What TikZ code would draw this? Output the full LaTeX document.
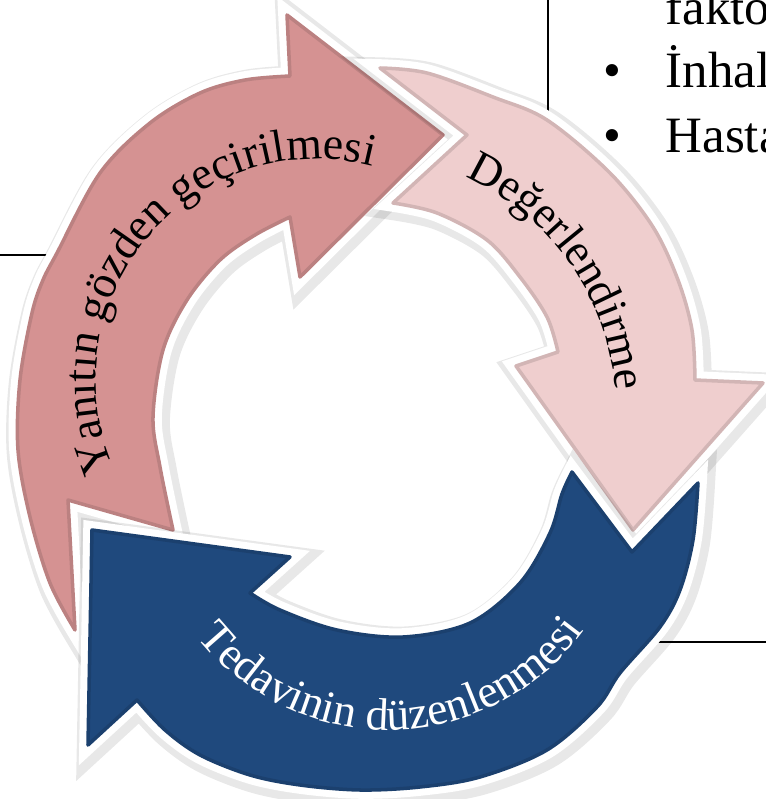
\documentclass[tikz,border=0pt]{standalone}
\usepackage{fontspec}
\setmainfont{Liberation Serif}
\usetikzlibrary{decorations.text}
\tikzset{
  cyclearrow/.style={line join=round,
    preaction={draw=black, draw opacity=0.09, line width=8pt, transform canvas={shift={(0.8pt,-1pt)}}},
    preaction={draw=white, line width=5pt},
    fill=#1,
    postaction={draw=#1!88!black, line width=1pt}},
  stubline/.style={line width=0.8pt, black},
  listtext/.style={anchor=base west, inner sep=0pt, font=\fontsize{14.5}{17}\selectfont},
  listbullet/.style={anchor=base, inner sep=0pt, font=\fontsize{14.5}{17}\selectfont},
}
\newcommand{\arclabel}{\fontsize{13}{15}\selectfont}
\begin{document}
\begin{tikzpicture}
                        % \clip (0,0) rectangle (7.66,7.99);
                        \useasboundingbox (0,0) rectangle (7.66,7.99);
                        \clip (0,0) rectangle (7.66,7.99);

                        % Changing colors
                        \definecolor{r213g146b146}{rgb}{0.835,0.573,0.573}%
                        \definecolor{r239g206b206}{rgb}{0.937,0.808,0.808}%
                        \definecolor{r31g73b125}{rgb}{0.122,0.286,0.490}%

                        % Drawing stubs behind the cycle
                        \coordinate (leftstubA) at (0,5.44);%
                        \coordinate (leftstubB) at (0.62,5.44);%
                        \coordinate (topstubA) at (5.48,7.99);%
                        \coordinate (topstubB) at (5.48,6.84);%
                        \coordinate (rightstubA) at (6.40,1.57);%
                        \coordinate (rightstubB) at (7.66,1.57);%
                        \draw [stubline] (leftstubA) -- (leftstubB);%
                        \draw [stubline] (topstubA) -- (topstubB);%
                        \draw [stubline] (rightstubA) -- (rightstubB);%

                        % Drawing list text
                        \node [listtext] (fakto) at (6.65,7.74) {fakto};%
                        \node [listbullet] (bulletinhal) at (6.12,7.11) {•};%
                        \node [listtext] (inhal) at (6.65,7.11) {İnhal};%
                        \node [listbullet] (bullethasta) at (6.12,6.46) {•};%
                        \node [listtext] (hasta) at (6.65,6.46) {Hasta};%

                        % Drawing arrow Yanitin gozden gecirilmesi
                        \path [cyclearrow=r213g146b146] plot [smooth, tension=0.55] coordinates {(0.75,1.69) (0.50,2.16) (0.30,2.82) (0.18,3.49) (0.20,4.19) (0.32,4.86) (0.43,5.19) (0.57,5.46) (1.00,6.26) (1.50,6.76) (2.00,7.06) (2.45,7.19) (2.90,7.23)} -- (2.87,7.84) -- (4.43,6.64) -- (3.00,5.22) -- plot [smooth, tension=0.55] coordinates {(2.90,5.82) (2.55,5.64) (2.20,5.39) (1.87,4.99) (1.63,4.49) (1.53,3.82) (1.60,3.32) (1.73,2.69)} -- (0.68,2.99) -- cycle;%

                        % Drawing arrow Degerlendirme
                        \path [cyclearrow=r239g206b206] plot [smooth, tension=0.55] coordinates {(3.80,7.31) (4.27,7.26) (4.93,7.02) (5.47,6.79) (6.10,6.26) (6.53,5.72) (6.78,5.19) (6.92,4.69) (6.95,4.19)} -- (7.63,4.16) -- (6.33,2.69) -- (5.16,4.33) -- plot [smooth, tension=0.55] coordinates {(5.58,4.47) (5.47,4.82) (5.20,5.22) (4.87,5.59) (4.37,5.86) (3.93,5.96)} -- (4.67,6.64) -- cycle;%

                        % Drawing arrow Tedavinin duzenlenmesi
                        \path [cyclearrow=r31g73b125] (5.72,3.27) -- (6.32,2.47) -- plot [smooth, tension=0.55] coordinates {(6.98,3.16) (6.93,2.59) (6.80,2.09) (6.60,1.72) (6.20,1.26) (5.97,0.92) (5.47,0.49) (4.80,0.22) (4.20,0.12) (3.60,0.09) (3.00,0.14) (2.50,0.24) (2.00,0.44) (1.65,0.69) (1.37,0.99)} -- (0.88,0.54) -- (0.92,2.69) -- (2.90,2.42) -- plot [smooth, tension=0.55] coordinates {(2.50,2.06) (2.80,1.89) (3.37,1.69) (4.03,1.62) (4.70,1.76) (5.20,2.16) (5.50,2.66) (5.62,3.05) (5.72,3.27)} -- cycle;%

                        % Drawing labels along the arrows
                        \path [decorate, decoration={text along path, text align=center, text={|\arclabel|Yanıtın gözden geçirilmesi}}] ([shift={(209:2.21)}]3.17,4.19) arc [start angle=209, end angle=70, radius=2.21];%
                        \path [decorate, decoration={text along path, text align=center, text={|\arclabel|Değerlendirme}}] ([shift={(72:2.56)}]3.60,3.89) arc [start angle=72, end angle=-2, radius=2.56];%
                        \path [decorate, decoration={text along path, text align=center, text={|\arclabel\color{white}|Tedavinin düzenlenmesi}}] ([shift={(211:2.42)}]3.88,3.11) arc [start angle=211, end angle=331, radius=2.42];%
\end{tikzpicture}
\end{document}
